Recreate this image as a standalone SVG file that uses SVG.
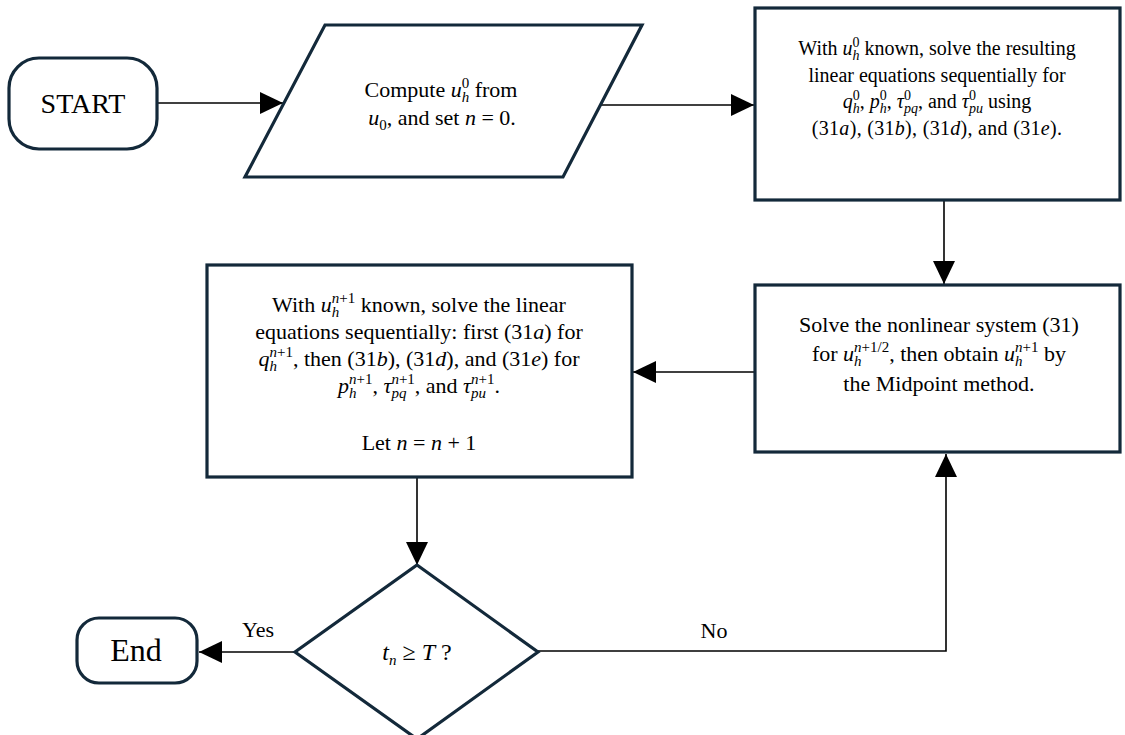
<svg xmlns="http://www.w3.org/2000/svg" width="1125" height="735" viewBox="0 0 1125 735">
<style>
.node{fill:#fff;stroke:#13293a;stroke-width:3.2}
.conn{fill:none;stroke:#000;stroke-width:1.6}
.t{font-family:"Liberation Serif","Times New Roman",serif;fill:#000;text-anchor:middle}
.f22{font-size:22px}
.f20{font-size:20px}
.i{font-style:italic}
.s15{font-size:15px}
.s14{font-size:14px}
</style>
<defs>
<marker id="ah" markerUnits="userSpaceOnUse" markerWidth="23" markerHeight="22" refX="23" refY="11" orient="auto">
<path d="M0,0 L23,11 L0,22 z" fill="#000"/>
</marker>
</defs>
<rect width="1125" height="735" fill="#fff"/>
<g id="connectors">
<path class="conn" d="M157,103 L283,103" marker-end="url(#ah)"/>
<path class="conn" d="M601,105 L754,105" marker-end="url(#ah)"/>
<path class="conn" d="M944,200 L944,284" marker-end="url(#ah)"/>
<path class="conn" d="M755,372 L633,372" marker-end="url(#ah)"/>
<path class="conn" d="M417,477 L417,565" marker-end="url(#ah)"/>
<path class="conn" d="M295,652 L199,652" marker-end="url(#ah)"/>
<path class="conn" d="M538,651 L946,651 L946,454" marker-end="url(#ah)"/>
<text class="t f22" x="258" y="637">Yes</text>
<text class="t f22" x="714" y="638">No</text>
</g>
<g id="start">
<rect class="node" x="9" y="58" width="148" height="91" rx="30"/>
<text class="t" style="font-size:28px" x="83" y="113">START</text>
</g>
<g id="compute">
<polygon class="node" points="325,25 642,25 563,177 245,177"/>
<text class="t f22" x="441" y="97">Compute <tspan class="i">u</tspan><tspan class="i s15" dy="5">h</tspan><tspan class="s15" dx="-7.5" dy="-14">0</tspan><tspan dy="9"> from</tspan></text>
<text class="t f22" x="442" y="125"><tspan class="i">u</tspan><tspan class="s15" dy="5">0</tspan><tspan dy="-5">, and set </tspan><tspan class="i">n</tspan> = 0.</text>
</g>
<g id="init-solve">
<rect class="node" x="755" y="8" width="365" height="192"/>
<text class="t f20" x="937" y="55">With <tspan class="i">u</tspan><tspan class="i s14" dy="4.5">h</tspan><tspan class="s14" dx="-7" dy="-13">0</tspan><tspan dy="8.5"> known, solve the resulting</tspan></text>
<text class="t f20" x="937" y="82">linear equations sequentially for</text>
<text class="t f20" x="937" y="108"><tspan class="i">q</tspan><tspan class="i s14" dy="4.5">h</tspan><tspan class="s14" dx="-7" dy="-13">0</tspan><tspan dy="8.5">, </tspan><tspan class="i">p</tspan><tspan class="i s14" dy="4.5">h</tspan><tspan class="s14" dx="-7" dy="-13">0</tspan><tspan dy="8.5">, </tspan><tspan class="i">τ</tspan><tspan class="s14" dy="-8.5">0</tspan><tspan class="i s14" dx="-7" dy="13">pq</tspan><tspan dy="-4.5">, and </tspan><tspan class="i">τ</tspan><tspan class="s14" dy="-8.5">0</tspan><tspan class="i s14" dx="-7" dy="13">pu</tspan><tspan dy="-4.5"> using</tspan></text>
<text class="t f20" x="937" y="135" letter-spacing="0.3">(31<tspan class="i">a</tspan>), (31<tspan class="i">b</tspan>), (31<tspan class="i">d</tspan>), and (31<tspan class="i">e</tspan>).</text>
</g>
<g id="nonlinear">
<rect class="node" x="755" y="285" width="365" height="167"/>
<text class="t f22" x="939" y="332">Solve the nonlinear system (31)</text>
<text class="t f22" x="939" y="361">for <tspan class="i">u</tspan><tspan class="i s15" dy="5">h</tspan><tspan class="s15" dx="-7.5" dy="-14"><tspan class="i">n</tspan>+1/2</tspan><tspan dy="9">, then obtain </tspan><tspan class="i">u</tspan><tspan class="i s15" dy="5">h</tspan><tspan class="s15" dx="-7.5" dy="-14"><tspan class="i">n</tspan>+1</tspan><tspan dy="9"> by</tspan></text>
<text class="t f22" x="939" y="391">the Midpoint method.</text>
</g>
<g id="update">
<rect class="node" x="207" y="265" width="425" height="212"/>
<text class="t f22" x="419" y="312">With <tspan class="i">u</tspan><tspan class="i s15" dy="5">h</tspan><tspan class="s15" dx="-7.5" dy="-14"><tspan class="i">n</tspan>+1</tspan><tspan dy="9"> known, solve the linear</tspan></text>
<text class="t f22" x="419" y="339">equations sequentially: first (31<tspan class="i">a</tspan>) for</text>
<text class="t f22" x="419" y="366"><tspan class="i">q</tspan><tspan class="i s15" dy="5">h</tspan><tspan class="s15" dx="-7.5" dy="-14"><tspan class="i">n</tspan>+1</tspan><tspan dy="9">, then (31</tspan><tspan class="i">b</tspan>), (31<tspan class="i">d</tspan>), and (31<tspan class="i">e</tspan>) for</text>
<text class="t f22" x="419" y="393"><tspan class="i">p</tspan><tspan class="i s15" dy="5">h</tspan><tspan class="s15" dx="-7.5" dy="-14"><tspan class="i">n</tspan>+1</tspan><tspan dy="9">, </tspan><tspan class="i">τ</tspan><tspan class="i s15" dy="5">pq</tspan><tspan class="s15" dx="-15" dy="-14"><tspan class="i">n</tspan>+1</tspan><tspan dy="9">, and </tspan><tspan class="i">τ</tspan><tspan class="i s15" dy="5">pu</tspan><tspan class="s15" dx="-15" dy="-14"><tspan class="i">n</tspan>+1</tspan><tspan dy="9">.</tspan></text>
<text class="t f22" x="419" y="450">Let <tspan class="i">n</tspan> = <tspan class="i">n</tspan> + 1</text>
</g>
<g id="decision">
<polygon class="node" points="417,565 538,652 417,739 295,652"/>
<text class="t" style="font-size:24px" x="417" y="660"><tspan class="i">t</tspan><tspan class="i s15" dy="5">n</tspan><tspan dy="-5"> ≥ </tspan><tspan class="i">T</tspan> ?</text>
</g>
<g id="end">
<rect class="node" x="77" y="618" width="120" height="65" rx="22"/>
<text class="t" style="font-size:32px" x="136" y="661">End</text>
</g>
</svg>
